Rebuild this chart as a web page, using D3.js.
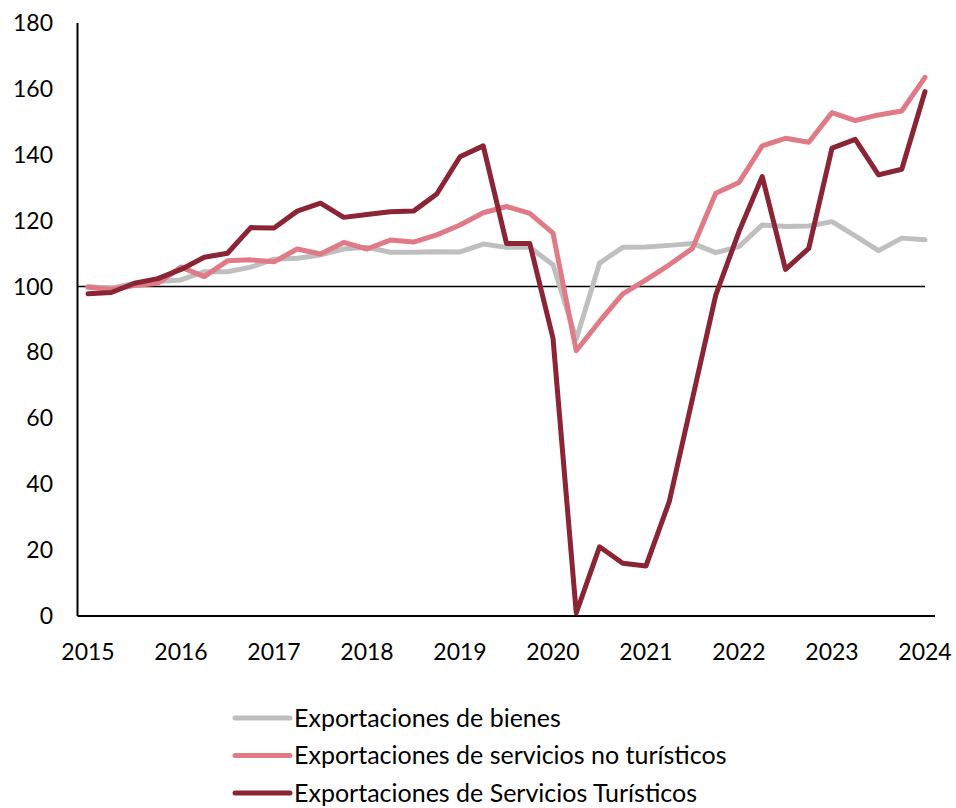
<!DOCTYPE html>
<html>
<head>
<meta charset="utf-8">
<script src="https://cdn.jsdelivr.net/npm/d3@7"></script>
<style>
    body { margin: 0; background: #fff; }
    svg text { font-family: Lato, "Open Sans", sans-serif; fill: #000; }
</style>
</head>
<body>
<svg id="chart" width="956" height="808"></svg>
<script>
// trimestral, 2015T1 - 2024T1
var periods = d3.range(0, 37);
var yearLabels = ["2015", "2016", "2017", "2018", "2019", "2020", "2021", "2022", "2023", "2024"];
var yTicks = [0, 20, 40, 60, 80, 100, 120, 140, 160, 180];

var bienes = [100, 99.5, 101, 101.5, 102, 104.5, 104.5, 105.9, 108.3, 108.6,
    109.6, 111.4, 111.9, 110.4, 110.4, 110.6, 110.5, 112.9, 111.9, 111.9,
    106.6, 84, 107.1, 111.9, 112, 112.5, 113.1, 110.3, 112.1, 118.7,
    118.2, 118.4, 119.7, 115.4, 110.9, 114.7, 114.2];

var noTuristicos = [99.8, 99.2, 100.3, 101, 105.9, 103, 107.8, 108.1, 107.5, 111.4,
    109.9, 113.4, 111.4, 114.1, 113.5, 115.7, 118.7, 122.4, 124.3, 122.2,
    116.2, 80.5, 89.4, 97.8, 102, 106.6, 111.6, 128.3, 131.6, 142.7,
    145, 143.8, 152.8, 150.4, 152.1, 153.3, 163.5];

var turisticos = [97.8, 98.2, 101, 102.4, 105.2, 108.9, 110.1, 117.9, 117.8, 122.9,
    125.3, 121, 121.9, 122.7, 122.9, 128.1, 139.4, 142.7, 113.1, 113.1,
    84.3, 0.9, 21, 16, 15.2, 34.7, 66, 97.4, 116.7, 133.4,
    105.2, 111.6, 142, 144.7, 133.9, 135.6, 159.2];

var seriesNames = ["Exportaciones de bienes", "Exportaciones de servicios no turísticos", "Exportaciones de Servicios Turísticos"];
var seriesColors = ["#BFBFBF", "#E07A86", "#8B2434"];
var seriesData = [bienes, noTuristicos, turisticos];

var svg = d3.select("#chart");

var x = d3.scaleLinear().domain([0, 36]).range([88, 925]);
var y = d3.scaleLinear().domain([0, 180]).range([616, 23]);

// eje y
svg.append("line")
    .attr("x1", 77.5).attr("x2", 77.5)
    .attr("y1", y(180)).attr("y2", y(0))
    .style("stroke", "#000").style("stroke-width", 2);

svg.selectAll(".ylab")
    .data(yTicks)
    .enter()
    .append("text")
    .attr("class", "ylab")
    .attr("x", 53)
    .attr("y", function(d){ return y(d); })
    .attr("dy", "0.35em")
    .attr("text-anchor", "end")
    .style("font-size", "23px")
    .text(function(d){ return d; });

// eje x
svg.append("line")
    .attr("x1", 77.5).attr("x2", 935)
    .attr("y1", y(0)).attr("y2", y(0))
    .style("stroke", "#000").style("stroke-width", 2);

svg.selectAll(".xlab")
    .data(yearLabels)
    .enter()
    .append("text")
    .attr("class", "xlab")
    .attr("x", function(d, i){ return x(i * 4); })
    .attr("y", 652)
    .attr("dy", "0.35em")
    .attr("text-anchor", "middle")
    .style("font-size", "23px")
    .text(function(d){ return d; });

// linea de referencia 100
svg.append("line")
    .attr("x1", 77.5).attr("x2", 925)
    .attr("y1", y(100)).attr("y2", y(100))
    .style("stroke", "#000").style("stroke-width", 1.5);

var line = d3.line()
    .x(function(d, i){ return x(periods[i]); })
    .y(function(d){ return y(d); });

seriesData.forEach(function(s, k){
    svg.append("path")
        .attr("d", line(s))
        .style("fill", "none")
        .style("stroke", seriesColors[k])
        .style("stroke-width", 5)
        .style("stroke-linejoin", "round")
        .style("stroke-linecap", "round");
});

// leyenda
var legend = svg.selectAll(".leg")
    .data(seriesNames)
    .enter()
    .append("g")
    .attr("class", "leg")
    .attr("transform", function(d, i){ return "translate(0," + (718 + i * 37.5) + ")"; });

legend.append("line")
    .attr("x1", 235).attr("x2", 290)
    .style("stroke", function(d, i){ return seriesColors[i]; })
    .style("stroke-width", 5)
    .style("stroke-linecap", "round");

legend.append("text")
    .attr("x", 294)
    .attr("dy", "0.35em")
    .style("font-size", "25px")
    .text(function(d){ return d; });
</script>
</body>
</html>
